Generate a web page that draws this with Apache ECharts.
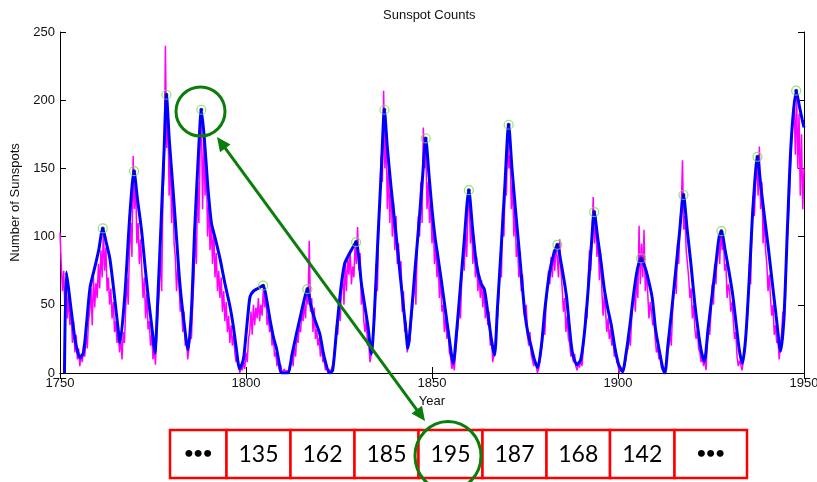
<!DOCTYPE html>
<html><head><meta charset="utf-8">
<script src="https://cdn.jsdelivr.net/npm/echarts/dist/echarts.min.js"></script>
<style>html,body{margin:0;padding:0;background:#fff}#c{width:817px;height:482px}</style>
</head><body><div id="c"></div>
<script>
// ---- data ----
const chartTitle = 'Sunspot Counts';
const xAxisName = 'Year';
const yAxisName = 'Number of Sunspots';
const xTickLabels = [1750, 1800, 1850, 1900, 1950];
const yTickLabels = [0, 50, 100, 150, 200, 250];

// raw counts (magenta), 3 samples per year starting 1750
const magentaStart = 1750;
const magentaPerYear = 3;
const magentaValues = [
 103,80,60, 75,45,68, 40,58,35, 45,22,38,
 15,28,10, 18,5,14, 8,20,12, 30,18,38,
 45,62,35, 70,48,66, 55,80,62, 90,70,104,
 75,92,60, 70,50,62, 40,52,30, 38,22,30,
 15,26,10, 30,22,48, 70,50,90, 110,85,159,
 120,140,95, 110,80,98, 75,55,70, 40,58,32,
 38,20,28, 10,18,6, 30,45,60, 90,60,130,
 150,240,165, 190,130,160, 110,140,95, 85,60,78,
 65,45,50, 30,45,20, 25,10,18, 30,25,50,
 70,100,80, 140,110,165, 190,120,170, 130,155,100,
 125,90,110, 80,105,70, 88,60,75, 55,70,45,
 60,38,52, 30,42,22, 35,20,28, 15,8,12,
 6,0,4, 2,8,3, 15,8,25, 30,45,28,
 50,35,48, 40,55,38, 50,42,62, 48,60,35,
 42,30,38, 20,28,12, 15,5,10, 2,6,0,
 0,3,0, 2,0,5, 8,15,5, 20,12,28,
 22,35,30, 45,38,52, 40,60,50, 97,45,55,
 30,48,25, 32,20,26, 12,22,8, 10,2,6,
 0,3,0, 0,6,12, 22,35,28, 50,38,62,
 70,50,80, 60,85,72, 90,65,78, 70,95,80,
 107,75,88, 50,62,38, 30,40,20, 22,8,14,
 18,32,45, 80,60,110, 130,160,140, 207,150,175,
 120,150,110, 140,100,125, 90,115,80, 95,70,82,
 45,60,30, 38,15,25, 22,35,45, 55,75,50,
 90,115,100, 140,110,180, 150,165,120, 140,110,125,
 95,110,80, 95,70,82, 55,72,45, 50,30,42,
 25,35,15, 12,3,8, 2,15,25, 35,50,40,
 70,90,75, 105,85,120, 128,95,110, 80,100,70,
 85,60,72, 55,68,48, 62,40,50, 35,45,20,
 25,8,15, 20,35,42, 60,85,70, 120,100,140,
 130,175,150, 160,120,140, 100,120,85, 95,70,80,
 60,72,45, 40,50,28, 20,30,14, 15,5,10,
 6,0,3, 8,15,22, 35,28,52, 60,75,65,
 85,70,90, 75,92,85, 70,98,75, 62,45,55,
 30,42,25, 22,12,18, 8,14,5, 2,8,4,
 10,5,18, 30,48,40, 70,90,75, 100,129,95,
 115,85,100, 68,88,60, 42,58,45, 30,40,25,
 32,20,26, 12,18,8, 6,0,5, 2,0,4,
 8,15,18, 28,20,40, 50,62,45, 70,55,108,
 65,95,70, 105,60,75, 58,40,52, 45,35,40,
 25,15,20, 10,14,4, 3,0,2, 8,15,20,
 30,20,45, 60,75,58, 95,80,110, 120,156,105,
 115,90,80, 70,55,62, 40,50,32, 25,32,18,
 15,8,12, 5,10,2, 22,32,28, 45,65,50,
 80,65,90, 95,80,105, 90,100,75, 80,55,65,
 60,45,52, 38,25,30, 12,5,9, 6,2,8,
 15,28,35, 55,80,65, 110,130,115, 140,155,130,
 166,120,140, 95,115,90, 80,60,72, 55,42,50,
 28,35,22, 25,10,20, 30,45,35, 55,90,105,
 125,150,170, 170,200,160, 205,150,190, 130,175,120,
 150
];

// smoothed curve (blue): [year, value]
const blueCurve = [
 [1751.2,0],[1751.7,74],[1752.3,62],[1753.1,44],[1754.2,22],[1755.4,11],[1756.3,15],[1757.1,35],[1758.1,63],[1759.4,78],
 [1760.4,90],[1761.5,106],[1762.4,96],[1763.4,84],[1764.4,62],[1765.3,40],[1765.8,28],[1766.1,22],[1767.4,56],[1768.8,117],
 [1769.9,148],[1770.8,128],[1771.9,105],[1772.8,80],[1773.7,56],[1774.5,38],[1775.0,26],[1775.5,14.6],[1776.3,55],[1777.2,112],
 [1778.0,165],[1778.6,204],[1779.4,170],[1780.4,134],[1781.3,100],[1782.2,66],[1783.3,38],[1784.4,17],[1785.3,44],[1786.2,105],
 [1787.2,160],[1788.0,193],[1788.8,172],[1789.7,138],[1790.7,110],[1791.8,98],[1793.0,84],[1794.3,66],[1795.6,50],[1796.5,36],
 [1797.3,20],[1798.3,3],[1799.3,10],[1800.0,28],[1800.6,45],[1801.1,56],[1802.0,60],[1803.2,62],[1804.6,64],[1805.4,56],
 [1806.4,40],[1807.4,26],[1808.2,18],[1809.0,6],[1809.5,0],[1811.2,0],[1812.4,14],[1813.5,28],[1814.5,40],[1815.5,52],
 [1816.5,61.5],[1817.4,50],[1818.4,40],[1819.8,29],[1821.0,12],[1822.5,0],[1823.3,2],[1824.3,30],[1825.5,62],[1826.5,80],
 [1827.5,86],[1828.3,90],[1829.6,96],[1830.3,85],[1831.0,66],[1832.0,48],[1832.8,34],[1833.7,14],[1834.4,38],[1835.4,95],
 [1836.4,150],[1837.2,193],[1838.0,165],[1839.0,136],[1840.0,110],[1841.0,84],[1842.0,57],[1843.0,31],[1843.5,18],[1844.5,45],
 [1845.5,78],[1846.5,110],[1847.5,145],[1848.3,172],[1849.2,145],[1850.0,120],[1850.8,100],[1851.6,85],[1852.6,66],[1853.6,46],
 [1854.6,26],[1855.7,7],[1856.6,30],[1857.6,62],[1858.6,95],[1859.9,134],[1860.9,106],[1861.9,81],[1863.1,66],[1864.1,61],
 [1865.2,40],[1866.0,24],[1866.8,13],[1867.6,48],[1868.6,92],[1869.6,138],[1870.6,182],[1871.5,150],[1872.5,118],[1873.5,88],
 [1874.3,63],[1875.0,43],[1875.8,29],[1876.6,20],[1877.5,10],[1878.4,4],[1879.4,20],[1880.4,48],[1881.5,72],[1882.5,85],
 [1883.7,94],[1884.6,82],[1885.5,68],[1886.2,55],[1887.0,32],[1887.8,14],[1889.0,6],[1890.0,10],[1891.0,30],[1892.0,62],
 [1893.0,100],[1893.6,118],[1894.5,100],[1895.5,80],[1896.3,62],[1897.2,48],[1898.2,35],[1899.2,18],[1900.2,6],[1901.2,1],
 [1902.2,15],[1903.2,35],[1904.2,58],[1905.2,76],[1906.2,84],[1907.2,78],[1908.2,68],[1909.2,55],[1910.1,32],[1911.0,18],
 [1912.0,4],[1912.6,0],[1913.4,20],[1914.4,45],[1915.4,72],[1916.5,102],[1917.6,130.5],[1918.6,105],[1919.6,80],[1920.6,52],
 [1921.6,30],[1922.4,16],[1923.2,8.5],[1924.2,32],[1925.2,55],[1926.3,80],[1927.2,100],[1927.8,104],[1928.8,90],[1929.8,75],
 [1930.8,58],[1931.8,35],[1932.6,17],[1933.4,7],[1934.3,25],[1935.3,70],[1936.3,122],[1937.5,158.5],[1938.4,137],[1939.4,114],
 [1940.4,92],[1941.4,68],[1942.5,42],[1943.7,16],[1944.6,40],[1945.6,110],[1946.6,172],[1947.9,207],[1948.8,195],[1949.5,186],
 [1950.0,180]
];

// detected peaks
const peakYears  = [1761.5,1769.9,1778.6,1788.0,1804.6,1816.5,1829.6,1837.2,1848.3,1859.9,1870.6,1883.7,1893.6,1906.2,1917.6,1927.8,1937.5,1947.9];
const peakValues = [106,148,204,193,64,61.5,96,193,172,134,182,94,118,84,130.5,104,158.5,207];

// table of values shown below the chart
const tableValues = ['•••','135','162','185','195','187','168','142','•••'];

// ---- build ----
const magentaData = magentaValues.map((v, i) => [magentaStart + i / magentaPerYear, v]);
const peakData = peakYears.map((y, i) => [y, peakValues[i]]);

const TXT = '#111';
const FONT = 'Liberation Sans';
const GREEN = '#0b7d0b';

const cellEdges = [170, 226.5, 290.5, 354.5, 418.5, 482.5, 546.5, 610, 674.5, 747];
const cellTop = 430, cellH = 48;
const graphics = [];
tableValues.forEach((t, i) => {
  const x0 = cellEdges[i], x1 = cellEdges[i + 1];
  graphics.push({type: 'rect', z: 100, shape: {x: x0, y: cellTop, width: x1 - x0, height: cellH},
    style: {fill: '#fff', stroke: '#ff0000', lineWidth: 2.5}});
  const dots = t === '•••';
  graphics.push({type: 'text', z: 101, style: {text: t, x: (x0 + x1) / 2, y: cellTop + cellH / 2 + (dots ? -1 : 1),
    align: 'center', verticalAlign: 'middle', fontSize: dots ? 16 : 23,
    fontWeight: dots ? 'bold' : 'normal', fontFamily: 'Lato, "DejaVu Sans", sans-serif', fill: '#000'}});
});
// highlight ellipse around 195
graphics.push({type: 'ellipse', z: 110, shape: {cx: 448, cy: 456, rx: 33, ry: 34.5},
  style: {fill: 'none', stroke: GREEN, lineWidth: 3}});
// circle around 1788 peak
graphics.push({type: 'circle', z: 110, shape: {cx: 200.5, cy: 111.5, r: 24.5},
  style: {fill: 'none', stroke: GREEN, lineWidth: 3}});
// double arrow
const A = [217, 137], B = [425, 421];
const dx = B[0] - A[0], dy = B[1] - A[1], L = Math.hypot(dx, dy);
const ux = dx / L, uy = dy / L, nx = -uy, ny = ux;
const hl = 14, hw = 6.5;
graphics.push({type: 'line', z: 110, shape: {x1: A[0] + ux * 8, y1: A[1] + uy * 8, x2: B[0] - ux * 8, y2: B[1] - uy * 8},
  style: {stroke: GREEN, lineWidth: 3}});
graphics.push({type: 'polygon', z: 110, shape: {points: [A,
  [A[0] + ux * hl + nx * hw, A[1] + uy * hl + ny * hw], [A[0] + ux * hl - nx * hw, A[1] + uy * hl - ny * hw]]},
  style: {fill: GREEN}});
graphics.push({type: 'polygon', z: 110, shape: {points: [B,
  [B[0] - ux * hl + nx * hw, B[1] - uy * hl + ny * hw], [B[0] - ux * hl - nx * hw, B[1] - uy * hl - ny * hw]]},
  style: {fill: GREEN}});

const tickStyle = {inside: true, length: 6, lineStyle: {color: '#000', width: 1}};
const lineStyle = {lineStyle: {color: '#000', width: 1}};

const chart = echarts.init(document.getElementById('c'), null, {renderer: 'canvas'});
chart.setOption({
  animation: false,
  backgroundColor: '#fff',
  title: {text: chartTitle, left: 383, top: 9, padding: 0,
    textStyle: {fontSize: 13, fontWeight: 'normal', fontFamily: FONT, color: TXT}},
  grid: {left: 60, right: 13, top: 32, bottom: 109, containLabel: false, outerBoundsMode: 'none'},
  xAxis: [
    {type: 'value', position: 'bottom', min: xTickLabels[0], max: xTickLabels[xTickLabels.length - 1], interval: 50,
     axisLine: lineStyle, axisTick: tickStyle, splitLine: {show: false},
     axisLabel: {color: TXT, fontSize: 13, fontFamily: FONT, margin: 4, showMinLabel: true, showMaxLabel: true,
       formatter: v => String(v)},
     name: xAxisName, nameLocation: 'middle', nameGap: 22,
     nameTextStyle: {color: TXT, fontSize: 13, fontFamily: FONT}},
    {type: 'value', position: 'top', min: xTickLabels[0], max: xTickLabels[xTickLabels.length - 1], interval: 50,
     axisLine: lineStyle, axisTick: tickStyle, splitLine: {show: false}, axisLabel: {show: false}}
  ],
  yAxis: [
    {type: 'value', position: 'left', min: yTickLabels[0], max: yTickLabels[yTickLabels.length - 1], interval: 50,
     axisLine: {show: true, lineStyle: {color: '#000', width: 1}}, axisTick: {show: true, inside: true, length: 6, lineStyle: {color: '#000'}},
     splitLine: {show: false},
     axisLabel: {color: TXT, fontSize: 13, fontFamily: FONT, margin: 5, formatter: v => String(v)},
     name: yAxisName, nameLocation: 'middle', nameGap: 33, nameRotate: 90,
     nameTextStyle: {color: TXT, fontSize: 13, fontFamily: FONT}},
    {type: 'value', position: 'right', min: yTickLabels[0], max: yTickLabels[yTickLabels.length - 1], interval: 50,
     axisLine: {show: true, lineStyle: {color: '#000', width: 1}}, axisTick: {show: true, inside: true, length: 6, lineStyle: {color: '#000'}},
     splitLine: {show: false}, axisLabel: {show: false}}
  ],
  series: [
    {type: 'line', name: 'counts', data: magentaData, showSymbol: false, symbol: 'none', clip: true, z: 2,
     lineStyle: {color: '#ff00ff', width: 1.5}},
    {type: 'line', name: 'smoothed', data: blueCurve, showSymbol: false, symbol: 'none', smooth: 0.25, clip: true, z: 3,
     lineStyle: {color: '#0000ff', width: 3}},
    {type: 'scatter', data: peakData, symbol: 'circle', symbolSize: 4, z: 4, itemStyle: {color: '#0000a0'}},
    {type: 'scatter', data: peakData, symbol: 'circle', symbolSize: 9, z: 5,
     itemStyle: {color: 'rgba(0,0,0,0)', borderColor: '#74dc52', borderWidth: 1.2}}
  ],
  graphic: graphics
});
</script>
</body></html>
